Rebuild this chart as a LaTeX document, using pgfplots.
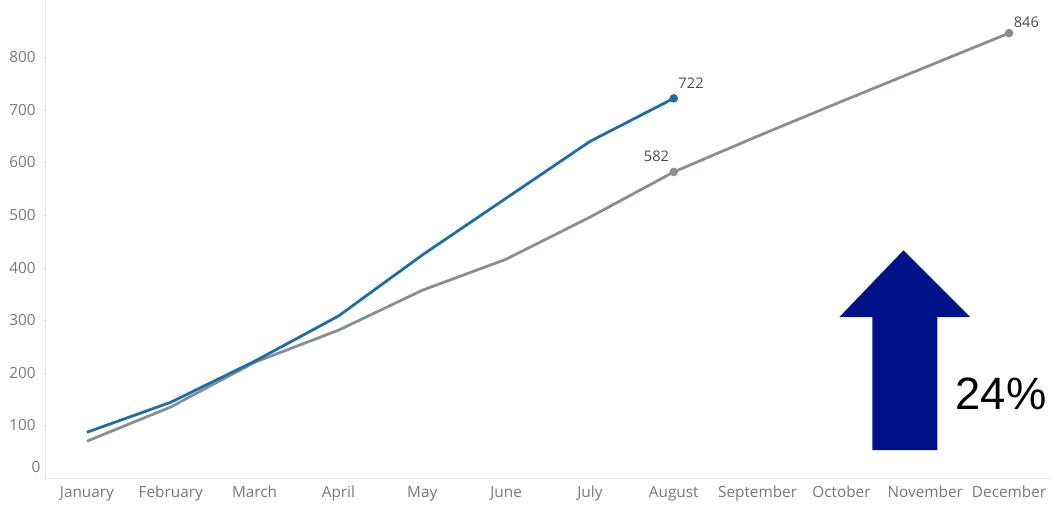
\documentclass[border=0pt]{standalone}
\usepackage{pgfplots}
\pgfplotsset{compat=1.18}
\usepackage{fontspec}
\setmainfont{Open Sans}
\newfontfamily\bigfont{Liberation Sans}
\definecolor{curblue}{RGB}{30,110,165}
\definecolor{prevgray}{RGB}{137,142,150}
\definecolor{navyarrow}{RGB}{0,18,138}
\definecolor{ticktxt}{RGB}{120,120,120}
\definecolor{axisline}{RGB}{228,228,228}
\begin{document}
\begin{tikzpicture}
\begin{axis}[
    scale only axis,
    width=754.5pt, height=358.5pt,
    xmin=-0.5, xmax=11.5,
    ymin=0, ymax=909,
    axis lines=left,
    axis line style={draw=axisline, -},
    xtick={0,...,11},
    xticklabels={January,February,March,April,May,June,July,August,September,October,November,December},
    ytick={100,200,300,400,500,600,700,800},
    major tick length=3pt,
    tick style={draw=axisline},
    xtick style={draw=none},
    ticklabel style={font=\fontsize{11.5}{13}\selectfont, text=ticktxt},
    /pgf/number format/assume math mode=true,
    yticklabel style={xshift=-2pt},
    xticklabel style={yshift=-1pt},
    clip=false,
]
    % previous year (gray)
    \addplot[prevgray, line width=2.1pt, mark=*, mark size=2.1pt,
             mark indices={8,12}]
      coordinates {
        (0,70) (1,135) (2,220) (3,281) (4,357) (5,416)
        (6,496) (7,582) (8,650) (9,716) (10,781) (11,846)
      };
    % current year (blue)
    \addplot[curblue, line width=2.1pt, mark=*, mark size=2.1pt,
             mark indices={8}]
      coordinates {
        (0,87) (1,144) (2,222) (3,308) (4,424) (5,532)
        (6,640) (7,722)
      };
    % value labels
    \node[font=\fontsize{11}{13}\selectfont, text=black!70, anchor=south west, yshift=4pt]
      at (axis cs:7,722) {722};
    \node[font=\fontsize{11}{13}\selectfont, text=black!70, anchor=south east]
      at (axis cs:7,592) {582};
    \node[font=\fontsize{11}{13}\selectfont, text=black!70, anchor=south west, yshift=3pt]
      at (axis cs:11,840) {846};
    % zero label sits higher than its tick
    \node[font=\fontsize{11.5}{13}\selectfont, text=ticktxt, anchor=east]
      at (axis cs:-0.5,21) {0};
    % arrow
    \fill[navyarrow] (axis cs:9.368,53) -- (axis cs:10.143,53)
        -- (axis cs:10.143,306) -- (axis cs:10.536,306)
        -- (axis cs:9.74,433) -- (axis cs:8.975,306)
        -- (axis cs:9.368,306) -- cycle;
    \node[font=\bigfont\fontsize{34}{40}\selectfont, anchor=west, inner sep=0pt]
      at (axis cs:10.36,160) {24\%};
\end{axis}
\pgfresetboundingbox
\path (current axis.south west) ++(-33.75pt,-20.25pt) coordinate (bbsw);
\path (current axis.north east) coordinate (bbne);
\path (bbsw) rectangle (bbne);
\end{tikzpicture}
\end{document}
